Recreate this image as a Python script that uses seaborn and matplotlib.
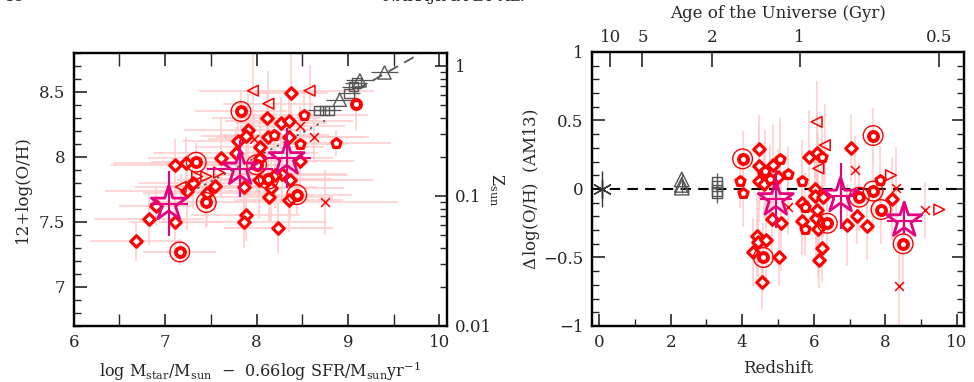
import numpy as np
import matplotlib
matplotlib.use("Agg")
import matplotlib.pyplot as plt
from matplotlib.ticker import MultipleLocator, FixedLocator, NullFormatter
import seaborn as sns

# ---------------- left panel: 12+log(O/H) vs mu_0.66 ----------------
L_dia_x = [6.68, 6.82, 6.90, 7.11, 7.11, 7.23, 7.24, 7.31, 7.46, 7.55, 7.61, 7.77, 7.80, 7.91,
           7.89, 7.86, 7.88, 7.86, 8.04, 8.04, 8.11, 8.13, 8.03, 8.14, 8.16, 8.24, 8.27, 8.35,
           8.38, 8.36, 8.37, 8.35, 8.28, 8.20, 8.47]
L_dia_y = [7.35, 7.52, 7.62, 7.94, 7.50, 7.95, 7.74, 7.80, 7.72, 7.78, 7.99, 8.03, 8.12, 8.21,
           8.16, 7.77, 7.55, 7.50, 8.08, 7.99, 8.30, 8.15, 7.82, 7.69, 7.76, 7.45, 8.26, 8.28,
           8.49, 8.15, 7.82, 7.67, 7.87, 7.86, 7.97]
L_dia_xerr = [0.5, 0.6, 0.4, 0.7, 0.5, 0.8, 0.9, 0.6, 0.7, 0.5, 0.8, 0.9, 0.6, 0.7,
              0.5, 0.8, 0.6, 0.9, 0.7, 0.8, 0.6, 0.5, 0.9, 0.7, 0.8, 0.6, 0.5, 0.7,
              0.4, 0.8, 0.9, 0.6, 0.7, 0.8, 0.6]
L_dia_yerr = [0.15, 0.2, 0.15, 0.2, 0.25, 0.2, 0.3, 0.2, 0.25, 0.2, 0.3, 0.2, 0.25, 0.3,
              0.2, 0.25, 0.2, 0.2, 0.25, 0.3, 0.2, 0.25, 0.3, 0.2, 0.25, 0.2, 0.2, 0.25,
              0.3, 0.2, 0.3, 0.25, 0.2, 0.25, 0.2]

L_pen_x = [8.19, 8.48, 8.52, 8.87]
L_pen_y = [8.17, 8.10, 8.32, 8.11]
L_pen_xerr = [0.6, 0.5, 0.7, 0.6]
L_pen_yerr = [0.2, 0.25, 0.2, 0.1]

L_dot_x = [9.09]
L_dot_y = [8.41]

L_bull_x = [7.34, 7.45, 7.16, 7.83, 8.13, 8.44, 8.00]
L_bull_y = [7.96, 7.65, 7.27, 8.35, 7.83, 7.71, 7.94]
L_bull_xerr = [0.5, 0.6, 0.4, 0.5, 0.7, 0.6, 0.5]
L_bull_yerr = [0.15, 0.2, 0.1, 0.15, 0.2, 0.15, 0.2]

L_ltri_x = [7.96, 8.58, 8.13, 7.17]
L_ltri_y = [8.51, 8.51, 8.41, 7.77]
L_rtri_x = [7.35, 7.45, 7.59]
L_rtri_y = [7.85, 7.85, 7.88]
L_tri_xerr = [0.6, 0.7, 0.5, 0.5]
L_tri_yerr = [0.3, 0.2, 0.25, 0.1]

L_x_x = [8.75, 8.63, 8.47, 7.97]
L_x_y = [7.65, 8.15, 8.24, 8.14]
L_x_xerr = [0.8, 0.6, 0.5, 0.5]
L_x_yerr = [0.25, 0.2, 0.15, 0.2]

L_star_x = [7.04, 7.82, 8.33]
L_star_y = [7.64, 7.91, 7.99]
L_star_xerr = [0.21, 0.36, 0.27]
L_star_yerr = [0.25, 0.22, 0.23]

L_gsq_x = [8.68, 8.74, 8.80, 9.01, 9.06, 9.09]
L_gsq_y = [8.36, 8.36, 8.36, 8.49, 8.54, 8.57]
L_gtri_x = [8.91, 9.13, 9.40]
L_gtri_y = [8.44, 8.59, 8.65]

rel_dot_x = [7.28, 8.75]
rel_dot_y = [7.73, 8.28]
rel_dash_x = [9.10, 10.10]
rel_dash_y = [8.52, 8.92]

# ---------------- right panel: Delta log(O/H) vs redshift ----------------
R_dia_z = [4.47, 4.47, 4.62, 4.47, 4.62, 4.87, 5.01, 4.82, 5.08, 5.04, 4.40, 4.44, 4.66, 4.29,
           4.54, 5.86, 6.04, 6.04, 6.25, 5.66, 5.66, 6.06, 6.11, 6.22, 6.15, 6.10, 7.03, 6.94,
           7.20, 7.48, 8.18, 6.10]
R_dia_d = [0.29, 0.17, 0.12, 0.06, 0.035, 0.175, 0.09, -0.22, -0.25, -0.50, -0.34, -0.39, -0.37,
           -0.46, -0.68, 0.23, 0.0, -0.05, -0.06, -0.10, -0.23, -0.21, -0.29, -0.43, -0.52, 0.26,
           0.30, -0.26, -0.20, -0.27, -0.075, -0.15]
R_dia_err = [0.25, 0.3, 0.2, 0.3, 0.25, 0.3, 0.2, 0.3, 0.35, 0.2, 0.3, 0.25, 0.3, 0.25,
             0.2, 0.35, 0.3, 0.25, 0.3, 0.3, 0.25, 0.3, 0.35, 0.25, 0.2, 0.3, 0.25, 0.3,
             0.2, 0.25, 0.3, 0.3]

R_pen_z = [3.94, 4.01, 5.66, 5.76, 5.76, 6.22, 7.85, 4.64, 4.78, 5.06, 5.27]
R_pen_d = [0.06, -0.03, 0.06, -0.13, -0.29, 0.23, 0.065, 0.13, 0.07, 0.22, 0.11]
R_pen_err = [0.2, 0.25, 0.3, 0.25, 0.2, 0.3, 0.25, 0.3, 0.25, 0.3, 0.2]

R_bull_z = [4.01, 4.59, 6.38, 7.27, 7.66, 7.66, 7.88, 8.50]
R_bull_d = [0.22, -0.50, -0.25, -0.06, 0.39, -0.015, -0.15, -0.40]
R_bull_err = [0.2, 0.25, 0.2, 0.25, 0.2, 0.3, 0.25, 0.3]

R_ltri_z = [6.08, 6.31, 6.13]
R_ltri_d = [0.49, 0.32, 0.15]
R_rtri_z = [8.16, 9.51]
R_rtri_d = [0.10, -0.15]
R_tri_err = [0.3, 0.3, 0.25]

R_x_z = [7.16, 8.31, 9.11, 8.37, 5.27]
R_x_d = [0.135, 0.005, -0.15, -0.71, -0.13]
R_x_err = [0.25, 0.3, 0.2, 0.3, 0.2]

R_star_z = [4.94, 6.75, 8.53]
R_star_d = [-0.075, -0.05, -0.23]
R_star_zerr = [0.45, 0.37, 0.49]
R_star_derr = [0.21, 0.24, 0.10]

R_local_z = [0.07]
R_local_d = [0.0]
R_gtri_z = [2.31, 2.31, 2.31]
R_gtri_d = [0.07, 0.03, 0.01]
R_gsq_z = [3.29, 3.29, 3.29, 3.29]
R_gsq_d = [0.05, 0.02, -0.01, -0.03]

age_ticks = [10, 5, 2, 1, 0.5]

RED = "#ff0000"
PINK = "#ffcccc"
MAG = "#e5007d"
GRAY = "#555555"
OH_SUN = 8.70

sns.set_style("ticks")
plt.rcParams["font.family"] = ["DejaVu Serif"]
plt.rcParams["mathtext.fontset"] = "dejavuserif"
plt.rcParams["xtick.direction"] = "in"
plt.rcParams["ytick.direction"] = "in"
plt.rcParams["axes.linewidth"] = 1.6
plt.rcParams["axes.edgecolor"] = "black"


def red_pts(ax, x, y, marker, s, face="white", lw=2.3, z=3):
    sns.scatterplot(x=x, y=y, marker=marker, s=s, color=face, edgecolor=RED,
                    linewidth=lw, ax=ax, zorder=z, legend=False)


def bull_pts(ax, x, y):
    sns.scatterplot(x=x, y=y, marker="o", s=200, color="none", edgecolor=RED,
                    linewidth=1.0, ax=ax, zorder=3, legend=False)
    red_pts(ax, x, y, "o", 42, lw=2.8)


def style_ticks(ax):
    ax.tick_params(which="major", length=9, width=1.2, labelsize=12, pad=6)
    ax.tick_params(which="minor", length=5, width=1.0)


fig = plt.figure(figsize=(9.74, 3.82), dpi=100)
ax1 = fig.add_axes([0.0757, 0.1466, 0.3829, 0.7147])
ax2 = fig.add_axes([0.6078, 0.1466, 0.3819, 0.7173])

# ---- left panel ----
ax = ax1
eb = dict(fmt="none", ecolor=PINK, elinewidth=1.1, capsize=0, zorder=1)
ax.errorbar(L_dia_x, L_dia_y, xerr=L_dia_xerr, yerr=L_dia_yerr, **eb)
ax.errorbar(L_pen_x, L_pen_y, xerr=L_pen_xerr, yerr=L_pen_yerr, **eb)
ax.errorbar(L_bull_x, L_bull_y, xerr=L_bull_xerr, yerr=L_bull_yerr, **eb)
ax.errorbar(L_ltri_x, L_ltri_y, xerr=L_tri_xerr, yerr=L_tri_yerr, **eb)
ax.errorbar(L_x_x, L_x_y, xerr=L_x_xerr, yerr=L_x_yerr, **eb)
ax.errorbar(L_dot_x, L_dot_y, yerr=[0.2], **eb)

ax.plot(rel_dot_x, rel_dot_y, color=GRAY, lw=1.2, ls=(0, (1.5, 3)), zorder=2)
ax.plot(rel_dash_x, rel_dash_y, color=GRAY, lw=1.3, ls=(0, (6, 4)), zorder=2)
ax.errorbar(L_gsq_x, L_gsq_y, xerr=0.12, fmt="none", ecolor=GRAY, elinewidth=0.9, zorder=2)
ax.errorbar(L_gtri_x, L_gtri_y, xerr=0.15, fmt="none", ecolor=GRAY, elinewidth=0.9, zorder=2)
sns.scatterplot(x=L_gsq_x, y=L_gsq_y, marker="s", s=45, color="none", edgecolor=GRAY,
                linewidth=1.0, ax=ax, zorder=2, legend=False)
sns.scatterplot(x=L_gtri_x, y=L_gtri_y, marker="^", s=90, color="none", edgecolor=GRAY,
                linewidth=1.0, ax=ax, zorder=2, legend=False)

red_pts(ax, L_dia_x, L_dia_y, "D", 34)
red_pts(ax, L_pen_x, L_pen_y, "p", 48)
red_pts(ax, L_dot_x, L_dot_y, "o", 42, lw=2.8)
bull_pts(ax, L_bull_x, L_bull_y)
red_pts(ax, L_ltri_x, L_ltri_y, "<", 60, face="none", lw=1.1)
red_pts(ax, L_rtri_x, L_rtri_y, ">", 60, face="none", lw=1.1)
sns.scatterplot(x=L_x_x, y=L_x_y, marker="x", s=40, color=RED, linewidth=1.1, ax=ax,
                zorder=3, legend=False)

ax.errorbar(L_star_x, L_star_y, xerr=L_star_xerr, yerr=L_star_yerr, fmt="none",
            ecolor=MAG, elinewidth=1.5, zorder=4)
sns.scatterplot(x=L_star_x, y=L_star_y, marker="*", s=700, color="none", edgecolor=MAG,
                linewidth=2.0, ax=ax, zorder=5, legend=False)

ax.set_xlim(6, 10.08)
ax.set_ylim(6.7, 8.8)
ax.xaxis.set_major_locator(MultipleLocator(1))
ax.xaxis.set_minor_locator(MultipleLocator(0.5))
ax.yaxis.set_major_locator(MultipleLocator(0.5))
ax.yaxis.set_minor_locator(MultipleLocator(0.1))
ax.yaxis.set_major_formatter(plt.FuncFormatter(lambda v, p: f"{v:g}"))
ax.tick_params(top=True, right=False, which="both")
style_ticks(ax)
ax.tick_params(axis="x", which="minor", length=9)
ax.set_ylabel("12+log(O/H)", fontsize=12, labelpad=6)
ax.set_xlabel(r"log M$_{\rm star}$/M$_{\rm sun}$  $-$  0.66log SFR/M$_{\rm sun}$yr$^{-1}$",
              fontsize=11.5, labelpad=6)

axz = ax.twinx()
axz.set_yscale("log")
axz.set_ylim(10 ** (6.7 - OH_SUN), 10 ** (8.8 - OH_SUN))
axz.yaxis.set_major_locator(FixedLocator([0.01, 0.1, 1]))
axz.yaxis.set_major_formatter(plt.FuncFormatter(lambda v, p: f"{v:g}"))
axz.yaxis.set_minor_locator(FixedLocator([m * d for d in (0.01, 0.1, 1) for m in range(2, 10)]))
axz.yaxis.set_minor_formatter(NullFormatter())
style_ticks(axz)
axz.set_ylabel(r"Z$_{\rm sun}$", rotation=270, fontsize=11.5, labelpad=10)

# ---- right panel ----
ax = ax2
ax.axhline(0, color="black", lw=1.5, ls=(0, (5, 3.5)), zorder=2)
ax.errorbar(R_dia_z, R_dia_d, yerr=R_dia_err, **eb)
ax.errorbar(R_pen_z, R_pen_d, yerr=R_pen_err, **eb)
ax.errorbar(R_bull_z, R_bull_d, yerr=R_bull_err, **eb)
ax.errorbar(R_ltri_z, R_ltri_d, yerr=R_tri_err, **eb)
ax.errorbar(R_x_z, R_x_d, yerr=R_x_err, **eb)

ax.errorbar(R_local_z, R_local_d, yerr=0.13, fmt="none", ecolor="#333333", elinewidth=1.0, zorder=3)
sns.scatterplot(x=R_local_z, y=R_local_d, marker=(6, 2, 0), s=170, color="#333333",
                linewidth=1.0, ax=ax, zorder=3, legend=False)
ax.errorbar(R_gtri_z, R_gtri_d, yerr=0.04, fmt="none", ecolor=GRAY, elinewidth=0.8, zorder=3)
sns.scatterplot(x=R_gtri_z, y=R_gtri_d, marker="^", s=110, color="none", edgecolor=GRAY,
                linewidth=1.0, ax=ax, zorder=3, legend=False)
ax.errorbar(R_gsq_z, R_gsq_d, yerr=0.07, fmt="none", ecolor=GRAY, elinewidth=0.9, zorder=3)
sns.scatterplot(x=R_gsq_z, y=R_gsq_d, marker="s", s=55, color="none", edgecolor=GRAY,
                linewidth=1.0, ax=ax, zorder=3, legend=False)

red_pts(ax, R_dia_z, R_dia_d, "D", 34)
red_pts(ax, R_pen_z, R_pen_d, "p", 48)
bull_pts(ax, R_bull_z, R_bull_d)
red_pts(ax, R_ltri_z, R_ltri_d, "<", 60, face="none", lw=1.1)
red_pts(ax, R_rtri_z, R_rtri_d, ">", 60, face="none", lw=1.1)
sns.scatterplot(x=R_x_z, y=R_x_d, marker="x", s=40, color=RED, linewidth=1.1, ax=ax,
                zorder=3, legend=False)

ax.errorbar(R_star_z, R_star_d, xerr=R_star_zerr, yerr=R_star_derr, fmt="none",
            ecolor=MAG, elinewidth=1.5, zorder=4)
sns.scatterplot(x=R_star_z, y=R_star_d, marker="*", s=700, color="none", edgecolor=MAG,
                linewidth=2.0, ax=ax, zorder=5, legend=False)

ax.set_xlim(-0.2, 10.2)
ax.set_ylim(-1, 1)
ax.xaxis.set_major_locator(MultipleLocator(2))
ax.xaxis.set_minor_locator(MultipleLocator(1))
ax.yaxis.set_major_locator(MultipleLocator(0.5))
ax.yaxis.set_minor_locator(MultipleLocator(0.1))
ax.yaxis.set_major_formatter(plt.FuncFormatter(lambda v, p: f"{v:g}".replace("-", "\u2212")))
ax.tick_params(top=False, right=True, which="both")
style_ticks(ax)
ax.set_xlabel("Redshift", fontsize=12, labelpad=6)
ax.set_ylabel(r"$\Delta\,$log(O/H)  (AM13)", fontsize=12, labelpad=1)

# top axis: age of the universe (flat LCDM, H0=70, Om=0.3)
t_A = 2 * (977.8 / 70.0) / (3 * np.sqrt(0.7))
t_B = np.sqrt(0.7 / 0.3)
age_z = [(np.sinh(t / t_A) / t_B) ** (-2.0 / 3.0) - 1 for t in age_ticks]
axt = ax.twiny()
axt.set_xlim(ax.get_xlim())
axt.set_xticks(age_z)
axt.set_xticklabels([f"{t:g}" for t in age_ticks])
axt.tick_params(which="major", length=11, width=1.2, labelsize=12, pad=4)
axt.set_xlabel("Age of the Universe (Gyr)", fontsize=12, labelpad=8)

# clipped page header
fig.text(0.004, 0.99, "18", fontsize=11, va="bottom")
fig.text(0.393, 0.99, "NAKAJIMA ET AL.", fontsize=11, va="bottom")

fig.savefig("out.png", dpi=100)
